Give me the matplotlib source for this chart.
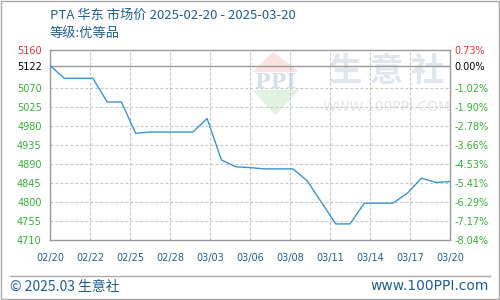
import numpy as np
import matplotlib
matplotlib.use("Agg")
import matplotlib.pyplot as plt
import pandas as pd
from matplotlib.patches import Polygon, Rectangle
from matplotlib.lines import Line2D

plt.rcParams['font.family'] = ['Noto Sans CJK SC', 'DejaVu Sans']

# daily prices, 02/20 .. 03/20 (weekends carry the last value)
dates = pd.date_range('2025-02-20', '2025-03-20', freq='D')
prices = [5122, 5092, 5092, 5092, 5036, 5036, 4962, 4965, 4965, 4965,
          4965, 4997, 4899, 4883, 4881, 4878, 4878, 4878, 4850, 4799,
          4748, 4748, 4797, 4797, 4797, 4820, 4856, 4846, 4848]

base_price = 5122
left_ticks = [5160, 5122, 5070, 5025, 4980, 4935, 4890, 4845, 4800, 4755, 4710]
right_labels = ['0.73%', '0.00%', '-1.02%', '-1.90%', '-2.78%', '-3.66%',
                '-4.53%', '-5.41%', '-6.29%', '-7.17%', '-8.04%']
x_labels = ['02/20', '02/22', '02/25', '02/28', '03/03', '03/06',
            '03/08', '03/11', '03/14', '03/17', '03/20']

title = 'PTA 华东 市场价 2025-02-20 - 2025-03-20'
subtitle = '等级:优等品'

blue_txt = '#1f5f94'
green = '#33b233'
red = '#ee3333'

days = (dates - dates[0]).days.values

fig = plt.figure(figsize=(5, 3), dpi=100)
ax = fig.add_axes([0.1, 0.2, 0.8, 0.635])

# watermark (drawn under the axes)
fig.text(0.774, 0.76, '生 意 社', fontsize=24, color='#e0e5ee', ha='center', va='center',
         fontweight='bold', zorder=-2)
fig.text(0.774, 0.643, 'WWW.100PPI.COM', fontsize=10, color='#e6e6e6', ha='center',
         va='center', family='DejaVu Sans', zorder=-2)
fig.patches.append(Polygon([[0.505, 0.76], [0.598, 0.76], [0.546, 0.827]], closed=True,
                           transform=fig.transFigure, fc='#fbe2e2', ec='none', zorder=-2))
fig.patches.append(Polygon([[0.505, 0.70], [0.598, 0.70], [0.551, 0.617]], closed=True,
                           transform=fig.transFigure, fc='#e0f2e0', ec='none', zorder=-2))
fig.text(0.551, 0.728, 'PPI', fontsize=15, color='#d8dfec', ha='center', va='center',
         family='DejaVu Serif', fontweight='bold', zorder=-2)
ax.set_facecolor('none')

ax.plot(days, prices, color='#3a94d4', lw=1.0, zorder=3)

ax.set_xlim(0, 28)
ax.set_ylim(4710, 5160)
xt = np.linspace(0, 28, len(x_labels))
ax.set_xticks(xt)
ax.set_xticklabels(x_labels, fontsize=7, color=blue_txt, family='DejaVu Sans')
ax.set_yticks(left_ticks)
ax.set_yticklabels([str(v) for v in left_ticks], fontsize=7, family='DejaVu Sans')
for lbl, v in zip(ax.get_yticklabels(), left_ticks):
    lbl.set_color(red if v > base_price else ('black' if v == base_price else green))
ax.tick_params(length=0, pad=6)
ax.tick_params(axis='x', pad=9)

for v in left_ticks:
    if v not in (base_price, 5160, 4710):
        ax.axhline(v, color='#c4c4c4', lw=0.8, ls=(0, (2.5, 2)), zorder=1)
for x in xt[1:-1]:
    ax.axvline(x, color='#c4c4c4', lw=0.8, ls=(0, (2.5, 2)), zorder=1)
ax.axhline(base_price, color='#999999', lw=1.0, zorder=2)

for s in ax.spines.values():
    s.set_color('#999999')
    s.set_linewidth(1.0)

ax2 = ax.twinx()
ax2.set_ylim(4710, 5160)
ax2.set_yticks(left_ticks)
ax2.set_yticklabels(right_labels, fontsize=7, family='DejaVu Sans')
for lbl, v in zip(ax2.get_yticklabels(), left_ticks):
    lbl.set_color(red if v > base_price else ('black' if v == base_price else green))
ax2.tick_params(length=0, pad=3)
for s in ax2.spines.values():
    s.set_visible(False)

fig.text(0.1, 0.95, title, fontsize=9.5, color=blue_txt, va='center')
fig.text(0.1, 0.887, subtitle, fontsize=9.5, color=blue_txt, va='center')

# footer
fig.lines.append(Line2D([0.02, 0.98], [0.081, 0.081], transform=fig.transFigure,
                        color='#aaaaaa', lw=1.0))
fig.text(0.02, 0.045, '© 2025.03 生意社', fontsize=10, color=blue_txt, va='center')
fig.text(0.978, 0.045, 'www.100PPI.com', fontsize=10, color=blue_txt, va='center',
         ha='right', family='DejaVu Sans')
fig.patches.append(Rectangle((0.001, 0.002), 0.997, 0.995, transform=fig.transFigure,
                             fill=False, ec='#aaaaaa', lw=1.0))

fig.savefig('out.png', dpi=100)
